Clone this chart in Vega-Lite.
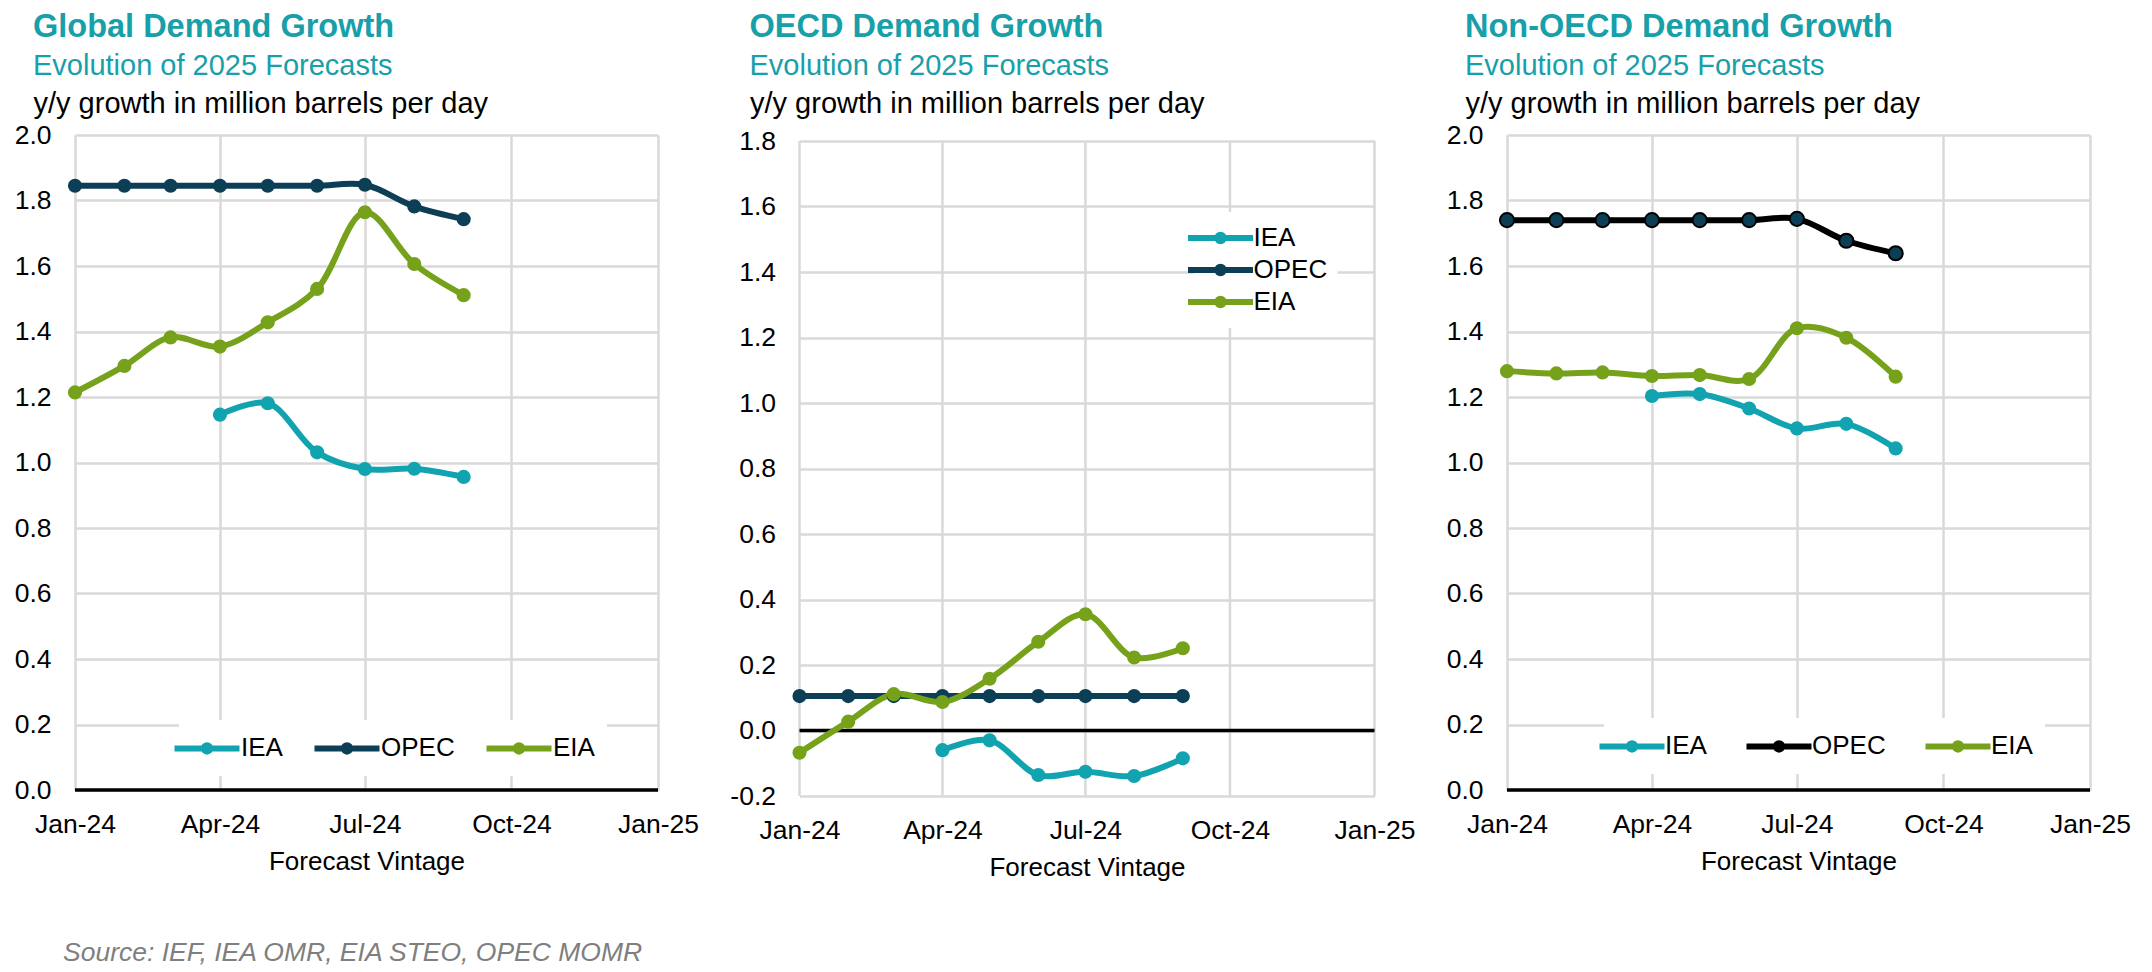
{
  "$schema": "https://vega.github.io/schema/vega-lite/v6.json",
  "background": "white",
  "padding": {"left": 14, "top": 10, "right": 5, "bottom": 5},
  "spacing": 30.5,
  "resolve": {"scale": {"stroke": "independent", "fill": "independent"}, "legend": {"stroke": "independent", "fill": "independent"}},
  "config": {"view": {"stroke": null}, "font": "Liberation Sans"},
  "title": {"text": "Source: IEF, IEA OMR, EIA STEO, OPEC MOMR", "orient": "bottom", "anchor": "start", "frame": "group", "dx": -12, "offset": 59, "font": "Liberation Sans", "fontSize": 26.5, "fontStyle": "italic", "fontWeight": "normal", "color": "#7F7F7F"},
  "datasets": {
    "d": [
      {"panel": "Global", "source": "OPEC", "date": "2024-01-01", "value": 1.845},
      {"panel": "Global", "source": "OPEC", "date": "2024-02-01", "value": 1.845},
      {"panel": "Global", "source": "OPEC", "date": "2024-03-01", "value": 1.845},
      {"panel": "Global", "source": "OPEC", "date": "2024-04-01", "value": 1.845},
      {"panel": "Global", "source": "OPEC", "date": "2024-05-01", "value": 1.845},
      {"panel": "Global", "source": "OPEC", "date": "2024-06-01", "value": 1.845},
      {"panel": "Global", "source": "OPEC", "date": "2024-07-01", "value": 1.848},
      {"panel": "Global", "source": "OPEC", "date": "2024-08-01", "value": 1.782},
      {"panel": "Global", "source": "OPEC", "date": "2024-09-01", "value": 1.743},
      {"panel": "Global", "source": "EIA", "date": "2024-01-01", "value": 1.214},
      {"panel": "Global", "source": "EIA", "date": "2024-02-01", "value": 1.295},
      {"panel": "Global", "source": "EIA", "date": "2024-03-01", "value": 1.382},
      {"panel": "Global", "source": "EIA", "date": "2024-04-01", "value": 1.354},
      {"panel": "Global", "source": "EIA", "date": "2024-05-01", "value": 1.428},
      {"panel": "Global", "source": "EIA", "date": "2024-06-01", "value": 1.53},
      {"panel": "Global", "source": "EIA", "date": "2024-07-01", "value": 1.764},
      {"panel": "Global", "source": "EIA", "date": "2024-08-01", "value": 1.606},
      {"panel": "Global", "source": "EIA", "date": "2024-09-01", "value": 1.511},
      {"panel": "Global", "source": "IEA", "date": "2024-04-01", "value": 1.146},
      {"panel": "Global", "source": "IEA", "date": "2024-05-01", "value": 1.181},
      {"panel": "Global", "source": "IEA", "date": "2024-06-01", "value": 1.031},
      {"panel": "Global", "source": "IEA", "date": "2024-07-01", "value": 0.98},
      {"panel": "Global", "source": "IEA", "date": "2024-08-01", "value": 0.981},
      {"panel": "Global", "source": "IEA", "date": "2024-09-01", "value": 0.956},
      {"panel": "OECD", "source": "OPEC", "date": "2024-01-01", "value": 0.105},
      {"panel": "OECD", "source": "OPEC", "date": "2024-02-01", "value": 0.105},
      {"panel": "OECD", "source": "OPEC", "date": "2024-03-01", "value": 0.105},
      {"panel": "OECD", "source": "OPEC", "date": "2024-04-01", "value": 0.105},
      {"panel": "OECD", "source": "OPEC", "date": "2024-05-01", "value": 0.105},
      {"panel": "OECD", "source": "OPEC", "date": "2024-06-01", "value": 0.105},
      {"panel": "OECD", "source": "OPEC", "date": "2024-07-01", "value": 0.105},
      {"panel": "OECD", "source": "OPEC", "date": "2024-08-01", "value": 0.105},
      {"panel": "OECD", "source": "OPEC", "date": "2024-09-01", "value": 0.105},
      {"panel": "OECD", "source": "EIA", "date": "2024-01-01", "value": -0.068},
      {"panel": "OECD", "source": "EIA", "date": "2024-02-01", "value": 0.027},
      {"panel": "OECD", "source": "EIA", "date": "2024-03-01", "value": 0.111},
      {"panel": "OECD", "source": "EIA", "date": "2024-04-01", "value": 0.087},
      {"panel": "OECD", "source": "EIA", "date": "2024-05-01", "value": 0.158},
      {"panel": "OECD", "source": "EIA", "date": "2024-06-01", "value": 0.271},
      {"panel": "OECD", "source": "EIA", "date": "2024-07-01", "value": 0.355},
      {"panel": "OECD", "source": "EIA", "date": "2024-08-01", "value": 0.223},
      {"panel": "OECD", "source": "EIA", "date": "2024-09-01", "value": 0.251},
      {"panel": "OECD", "source": "IEA", "date": "2024-04-01", "value": -0.06},
      {"panel": "OECD", "source": "IEA", "date": "2024-05-01", "value": -0.03},
      {"panel": "OECD", "source": "IEA", "date": "2024-06-01", "value": -0.136},
      {"panel": "OECD", "source": "IEA", "date": "2024-07-01", "value": -0.126},
      {"panel": "OECD", "source": "IEA", "date": "2024-08-01", "value": -0.139},
      {"panel": "OECD", "source": "IEA", "date": "2024-09-01", "value": -0.085},
      {"panel": "NonOECD", "source": "OPEC", "date": "2024-01-01", "value": 1.74},
      {"panel": "NonOECD", "source": "OPEC", "date": "2024-02-01", "value": 1.74},
      {"panel": "NonOECD", "source": "OPEC", "date": "2024-03-01", "value": 1.74},
      {"panel": "NonOECD", "source": "OPEC", "date": "2024-04-01", "value": 1.74},
      {"panel": "NonOECD", "source": "OPEC", "date": "2024-05-01", "value": 1.74},
      {"panel": "NonOECD", "source": "OPEC", "date": "2024-06-01", "value": 1.74},
      {"panel": "NonOECD", "source": "OPEC", "date": "2024-07-01", "value": 1.744},
      {"panel": "NonOECD", "source": "OPEC", "date": "2024-08-01", "value": 1.677},
      {"panel": "NonOECD", "source": "OPEC", "date": "2024-09-01", "value": 1.639},
      {"panel": "NonOECD", "source": "EIA", "date": "2024-01-01", "value": 1.279},
      {"panel": "NonOECD", "source": "EIA", "date": "2024-02-01", "value": 1.272},
      {"panel": "NonOECD", "source": "EIA", "date": "2024-03-01", "value": 1.275},
      {"panel": "NonOECD", "source": "EIA", "date": "2024-04-01", "value": 1.264},
      {"panel": "NonOECD", "source": "EIA", "date": "2024-05-01", "value": 1.267},
      {"panel": "NonOECD", "source": "EIA", "date": "2024-06-01", "value": 1.255},
      {"panel": "NonOECD", "source": "EIA", "date": "2024-07-01", "value": 1.41},
      {"panel": "NonOECD", "source": "EIA", "date": "2024-08-01", "value": 1.381},
      {"panel": "NonOECD", "source": "EIA", "date": "2024-09-01", "value": 1.262},
      {"panel": "NonOECD", "source": "IEA", "date": "2024-04-01", "value": 1.203},
      {"panel": "NonOECD", "source": "IEA", "date": "2024-05-01", "value": 1.209},
      {"panel": "NonOECD", "source": "IEA", "date": "2024-06-01", "value": 1.165},
      {"panel": "NonOECD", "source": "IEA", "date": "2024-07-01", "value": 1.104},
      {"panel": "NonOECD", "source": "IEA", "date": "2024-08-01", "value": 1.118},
      {"panel": "NonOECD", "source": "IEA", "date": "2024-09-01", "value": 1.043}
    ],
    "grid": [
      {"g": "2024-01-01"}, {"g": "2024-04-01"}, {"g": "2024-07-01"}, {"g": "2024-10-01"}, {"g": "2025-01-01"}
    ]
  },
  "hconcat": [
    {
      "width": 583, "height": 655,
      "title": {"text": "Global Demand Growth", "subtitle": "Evolution of 2025 Forecasts", "anchor": "start", "frame": "group", "dx": -42, "offset": 8, "font": "Liberation Sans", "fontSize": 32.5, "fontWeight": "bold", "color": "#17A0AA", "subtitleFont": "Liberation Sans", "subtitleFontSize": 29, "subtitleColor": "#17A0AA", "subtitlePadding": 9},
      "data": {"name": "d"},
      "transform": [{"filter": "datum.panel === 'Global'"}],
      "layer": [
        {
          "data": {"values": [{"z": 0}]},
          "mark": {"type": "rule", "color": "black", "strokeWidth": 3.5},
          "encoding": {"y": {"field": "z", "type": "quantitative"}}
        },
        {
          "mark": {"type": "line", "interpolate": "catmull-rom", "strokeWidth": 6},
          "encoding": {
            "x": {"field": "date", "type": "temporal", "scale": {"type": "utc", "nice": false, "domain": [{"year": 2024, "month": 1, "date": 1, "utc": true}, {"year": 2025, "month": 1, "date": 1, "utc": true}]},
              "axis": {"values": [{"year": 2024, "month": 1, "date": 1, "utc": true}, {"year": 2024, "month": 4, "date": 1, "utc": true}, {"year": 2024, "month": 7, "date": 1, "utc": true}, {"year": 2024, "month": 10, "date": 1, "utc": true}, {"year": 2025, "month": 1, "date": 1, "utc": true}], "format": "%b-%y", "title": "Forecast Vintage", "grid": true, "gridColor": "#D9D9D9", "gridWidth": 2.5, "domain": false, "ticks": false, "labelFlush": false, "labelFontSize": 26.5, "labelColor": "black", "labelPadding": 21, "titleFontSize": 26, "titleFontWeight": "normal", "titleColor": "black", "titlePadding": 11}},
            "y": {"field": "value", "type": "quantitative", "scale": {"domain": [0, 2], "nice": false, "zero": false},
              "axis": {"values": [0, 0.2, 0.4, 0.6, 0.8, 1, 1.2, 1.4, 1.6, 1.8, 2], "format": ".1f", "title": "y/y growth in million barrels per day", "titleAngle": 0, "titleAlign": "left", "titleBaseline": "alphabetic", "titleX": -42, "titleY": -23, "titleFontSize": 29, "titleFontWeight": "normal", "titleColor": "black", "grid": true, "gridColor": "#D9D9D9", "gridWidth": 2.5, "domain": false, "ticks": false, "labelFlush": false, "labelFontSize": 26.5, "labelColor": "black", "labelPadding": 24}},
            "stroke": {"field": "source", "type": "nominal", "scale": {"domain": ["IEA", "OPEC", "EIA"], "range": ["#12A3B0", "#0C3F55", "#76A21B"]},
              "legend": {"title": null, "orient": "none", "legendX": 104, "legendY": 585, "direction": "horizontal", "columns": 3, "symbolType": "M-2.5,0L2.5,0M-0.25,0A0.25,0.25,0,1,1,0.25,0A0.25,0.25,0,1,1,-0.25,0Z", "symbolSize": 676, "symbolStrokeWidth": 6, "labelFontSize": 26, "labelColor": "black", "labelOffset": 18, "columnPadding": 19, "padding": 12, "fillColor": "white"}}
          }
        },
        {
          "mark": {"type": "point", "filled": true, "size": 200, "opacity": 1},
          "encoding": {
            "x": {"field": "date", "type": "temporal"},
            "y": {"field": "value", "type": "quantitative"},
            "fill": {"field": "source", "type": "nominal", "scale": {"domain": ["IEA", "OPEC", "EIA"], "range": ["#12A3B0", "#0C3F55", "#76A21B"]}, "legend": null}
          }
        }
      ]
    },
    {
      "width": 575, "height": 661,
      "title": {"text": "OECD Demand Growth", "subtitle": "Evolution of 2025 Forecasts", "anchor": "start", "frame": "group", "dx": -50, "offset": 8, "font": "Liberation Sans", "fontSize": 32.5, "fontWeight": "bold", "color": "#17A0AA", "subtitleFont": "Liberation Sans", "subtitleFontSize": 29, "subtitleColor": "#17A0AA", "subtitlePadding": 9},
      "data": {"name": "d"},
      "transform": [{"filter": "datum.panel === 'OECD'"}],
      "layer": [
        {
          "data": {"name": "grid"},
          "mark": {"type": "rule", "color": "#D9D9D9", "strokeWidth": 2.5},
          "encoding": {"x": {"field": "g", "type": "temporal"}, "y": {"datum": -0.2, "type": "quantitative"}, "y2": {"datum": 1.8}}
        },
        {
          "data": {"values": [{"z": 0}]},
          "mark": {"type": "rule", "color": "black", "strokeWidth": 3.5},
          "encoding": {"y": {"field": "z", "type": "quantitative"}}
        },
        {
          "mark": {"type": "line", "interpolate": "catmull-rom", "strokeWidth": 6},
          "encoding": {
            "x": {"field": "date", "type": "temporal", "scale": {"type": "utc", "nice": false, "domain": [{"year": 2024, "month": 1, "date": 1, "utc": true}, {"year": 2025, "month": 1, "date": 1, "utc": true}]},
              "axis": {"values": [{"year": 2024, "month": 1, "date": 1, "utc": true}, {"year": 2024, "month": 4, "date": 1, "utc": true}, {"year": 2024, "month": 7, "date": 1, "utc": true}, {"year": 2024, "month": 10, "date": 1, "utc": true}, {"year": 2025, "month": 1, "date": 1, "utc": true}], "format": "%b-%y", "title": "Forecast Vintage", "grid": false, "domain": false, "ticks": false, "labelFlush": false, "labelFontSize": 26.5, "labelColor": "black", "labelPadding": 21, "titleFontSize": 26, "titleFontWeight": "normal", "titleColor": "black", "titlePadding": 11}},
            "y": {"field": "value", "type": "quantitative", "scale": {"domain": [-0.2, 1.8], "range": [661, 6], "nice": false, "zero": false},
              "axis": {"values": [-0.2, 0, 0.2, 0.4, 0.6, 0.8, 1, 1.2, 1.4, 1.6, 1.8], "format": ".1f", "labelExpr": "replace(datum.label, '\u2212', '-')", "title": "y/y growth in million barrels per day", "titleAngle": 0, "titleAlign": "left", "titleBaseline": "alphabetic", "titleX": -50, "titleY": -23, "titleFontSize": 29, "titleFontWeight": "normal", "titleColor": "black", "grid": true, "gridColor": "#D9D9D9", "gridWidth": 2.5, "domain": false, "ticks": false, "labelFlush": false, "labelFontSize": 26.5, "labelColor": "black", "labelPadding": 24}},
            "stroke": {"field": "source", "type": "nominal", "scale": {"domain": ["IEA", "OPEC", "EIA"], "range": ["#12A3B0", "#0C3F55", "#76A21B"]},
              "legend": {"title": null, "orient": "none", "legendX": 395, "legendY": 77, "direction": "vertical", "columns": 1, "symbolType": "M-2.5,0L2.5,0M-0.25,0A0.25,0.25,0,1,1,0.25,0A0.25,0.25,0,1,1,-0.25,0Z", "symbolSize": 676, "symbolStrokeWidth": 6, "labelFontSize": 26, "labelColor": "black", "labelOffset": 17, "rowPadding": 0, "padding": 10, "fillColor": "white"}}
          }
        },
        {
          "mark": {"type": "point", "filled": true, "size": 200, "opacity": 1},
          "encoding": {
            "x": {"field": "date", "type": "temporal"},
            "y": {"field": "value", "type": "quantitative"},
            "fill": {"field": "source", "type": "nominal", "scale": {"domain": ["IEA", "OPEC", "EIA"], "range": ["#12A3B0", "#0C3F55", "#76A21B"]}, "legend": null}
          }
        }
      ]
    },
    {
      "width": 583, "height": 655,
      "title": {"text": "Non-OECD Demand Growth", "subtitle": "Evolution of 2025 Forecasts", "anchor": "start", "frame": "group", "dx": -42, "offset": 8, "font": "Liberation Sans", "fontSize": 32.5, "fontWeight": "bold", "color": "#17A0AA", "subtitleFont": "Liberation Sans", "subtitleFontSize": 29, "subtitleColor": "#17A0AA", "subtitlePadding": 9},
      "data": {"name": "d"},
      "transform": [{"filter": "datum.panel === 'NonOECD'"}],
      "layer": [
        {
          "data": {"values": [{"z": 0}]},
          "mark": {"type": "rule", "color": "black", "strokeWidth": 3.5},
          "encoding": {"y": {"field": "z", "type": "quantitative"}}
        },
        {
          "mark": {"type": "line", "interpolate": "catmull-rom", "strokeWidth": 6},
          "encoding": {
            "x": {"field": "date", "type": "temporal", "scale": {"type": "utc", "nice": false, "domain": [{"year": 2024, "month": 1, "date": 1, "utc": true}, {"year": 2025, "month": 1, "date": 1, "utc": true}]},
              "axis": {"values": [{"year": 2024, "month": 1, "date": 1, "utc": true}, {"year": 2024, "month": 4, "date": 1, "utc": true}, {"year": 2024, "month": 7, "date": 1, "utc": true}, {"year": 2024, "month": 10, "date": 1, "utc": true}, {"year": 2025, "month": 1, "date": 1, "utc": true}], "format": "%b-%y", "title": "Forecast Vintage", "grid": true, "gridColor": "#D9D9D9", "gridWidth": 2.5, "domain": false, "ticks": false, "labelFlush": false, "labelFontSize": 26.5, "labelColor": "black", "labelPadding": 21, "titleFontSize": 26, "titleFontWeight": "normal", "titleColor": "black", "titlePadding": 11}},
            "y": {"field": "value", "type": "quantitative", "scale": {"domain": [0, 2], "nice": false, "zero": false},
              "axis": {"values": [0, 0.2, 0.4, 0.6, 0.8, 1, 1.2, 1.4, 1.6, 1.8, 2], "format": ".1f", "title": "y/y growth in million barrels per day", "titleAngle": 0, "titleAlign": "left", "titleBaseline": "alphabetic", "titleX": -42, "titleY": -23, "titleFontSize": 29, "titleFontWeight": "normal", "titleColor": "black", "grid": true, "gridColor": "#D9D9D9", "gridWidth": 2.5, "domain": false, "ticks": false, "labelFlush": false, "labelFontSize": 26.5, "labelColor": "black", "labelPadding": 24}},
            "stroke": {"field": "source", "type": "nominal", "scale": {"domain": ["IEA", "OPEC", "EIA"], "range": ["#12A3B0", "#000000", "#76A21B"]},
              "legend": {"title": null, "orient": "none", "legendX": 97, "legendY": 583, "direction": "horizontal", "columns": 3, "symbolType": "M-2.5,0L2.5,0M-0.25,0A0.25,0.25,0,1,1,0.25,0A0.25,0.25,0,1,1,-0.25,0Z", "symbolSize": 676, "symbolStrokeWidth": 6, "labelFontSize": 26, "labelColor": "black", "labelOffset": 17, "columnPadding": 27, "padding": 12, "fillColor": "white"}}
          }
        },
        {
          "mark": {"type": "point", "filled": true, "size": 200, "opacity": 1, "strokeWidth": 2},
          "encoding": {
            "x": {"field": "date", "type": "temporal"},
            "y": {"field": "value", "type": "quantitative"},
            "fill": {"field": "source", "type": "nominal", "scale": {"domain": ["IEA", "OPEC", "EIA"], "range": ["#12A3B0", "#0C3F55", "#76A21B"]}, "legend": null},
            "stroke": {"condition": {"test": "datum.source === 'OPEC'", "value": "#000000"}, "value": null}
          }
        }
      ]
    }
  ]
}
